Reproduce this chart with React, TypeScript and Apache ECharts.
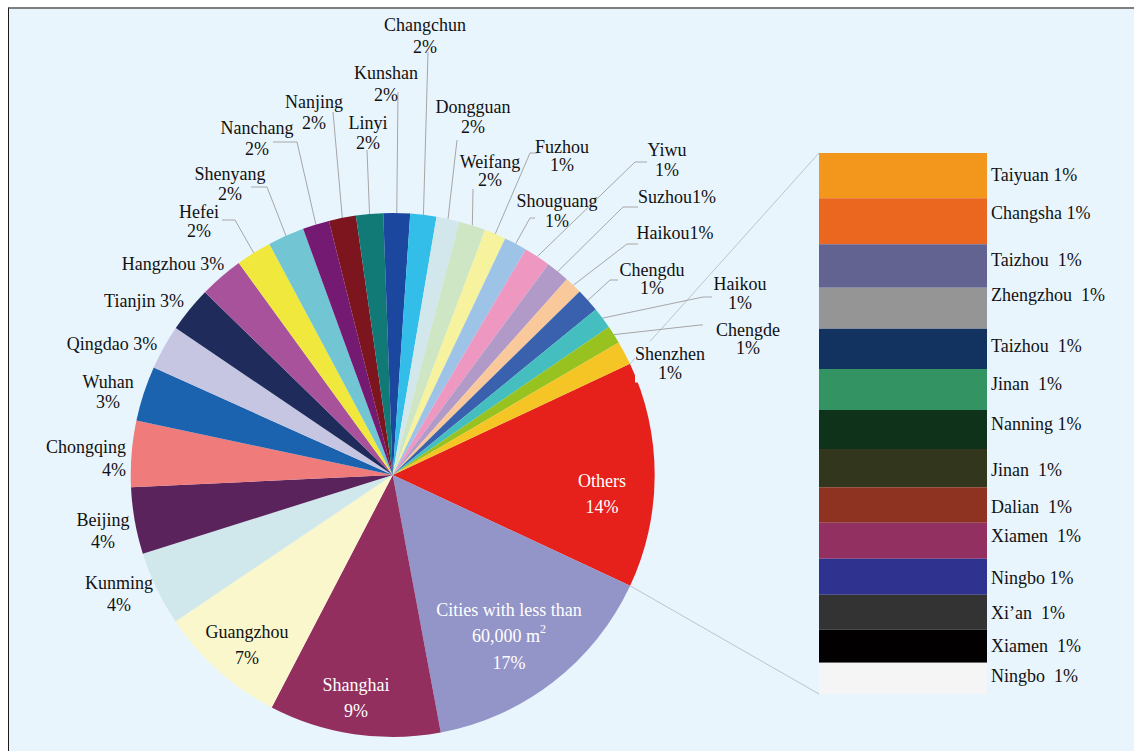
import React, { useEffect, useRef } from 'react';
import * as echarts from 'echarts';

// ---------- DATA ----------
// Pie slices, clockwise starting from the split slice "Others"
const pieNames = [
  'Others', 'Cities with less than\n60,000 m{sup|2}', 'Shanghai', 'Guangzhou', 'Kunming', 'Beijing',
  'Chongqing', 'Wuhan', 'Qingdao', 'Tianjin', 'Hangzhou', 'Hefei', 'Shenyang', 'Nanchang',
  'Nanjing', 'Linyi', 'Kunshan', 'Changchun', 'Dongguan', 'Weifang', 'Fuzhou', 'Shouguang',
  'Yiwu', 'Suzhou', 'Haikou', 'Chengdu', 'Haikou', 'Chengde', 'Shenzhen',
];
// slice sizes (percent of the whole)
const pieValues = [
  13.92, 15.11, 10.58, 7.92, 4.58, 4.11, 4.08, 3.39, 2.75, 2.81, 2.72, 2.19, 2.25, 1.64,
  1.67, 1.67, 1.64, 1.61, 1.42, 1.64, 1.33, 1.42, 1.64, 1.44, 1.08, 1.47, 1.33, 1.11, 1.47,
];
// percentages printed on the labels
const piePct = [
  '14%', '17%', '9%', '7%', '4%', '4%', '4%', '3%', '3%', '3%', '3%', '2%', '2%', '2%',
  '2%', '2%', '2%', '2%', '2%', '2%', '1%', '1%', '1%', '1%', '1%', '1%', '1%', '1%', '1%',
];
const pieColors = [
  '#E6211B', '#9394C8', '#922F5F', '#FAF7CC', '#D0E8EC', '#5B235C', '#EF7B7B', '#1C63AF',
  '#C7C6E2', '#1F2B5A', '#A7529B', '#F0E83C', '#72C6D3', '#751A73', '#7D151F', '#117A77',
  '#1B479E', '#33BEEA', '#D2E7EC', '#CFE6C4', '#F6F29E', '#9DC4E7', '#EE97C1', '#B19AC8',
  '#F9C89B', '#3A61AD', '#45BEBF', '#97C21F', '#F4C524',
];

// Breakdown of "Others" (stacked bar, top to bottom)
const barNames = [
  'Taiyuan', 'Changsha', 'Taizhou', 'Zhengzhou', 'Taizhou', 'Jinan', 'Nanning', 'Jinan',
  'Dalian', 'Xiamen', 'Ningbo', 'Xi’an', 'Xiamen', 'Ningbo',
];
const barValues = [1.17, 1.19, 1.13, 1.06, 1.04, 1.06, 1.01, 0.99, 0.92, 0.93, 0.93, 0.91, 0.85, 0.81];
const barPct = ['1%', '1%', '1%', '1%', '1%', '1%', '1%', '1%', '1%', '1%', '1%', '1%', '1%', '1%'];
const barColors = [
  '#F3961C', '#EB661E', '#636391', '#959595', '#12335F', '#339363', '#0E321A', '#32361C',
  '#8E3321', '#923061', '#303290', '#333333', '#020000', '#F5F5F5',
];

// ---------- LAYOUT / STYLE ----------
const BG = '#E9F5FD';
const FONT = '"Liberation Serif", "Times New Roman", serif';
const CX = 392.7;
const CY = 475;
const R = 262;
const START = 25.1;
const GRID = { left: 819, top: 153, width: 168, height: 541 };

type LL = { x: number; y: number; lh?: number; align?: string; sep?: string; inside?: boolean; color?: string; line?: number[][]; bg?: boolean };
const pieLabelLayout: LL[] = [
  { x: 602, y: 494, lh: 26, inside: true, color: '#ffffff' },
  { x: 509, y: 636, lh: 26.5, inside: true, color: '#ffffff' },
  { x: 356, y: 698, lh: 26, inside: true, color: '#ffffff' },
  { x: 247, y: 645, lh: 26, inside: true },
  { x: 119, y: 594, lh: 22 },
  { x: 103, y: 531, lh: 22 },
  { x: 126, y: 458, lh: 23, align: 'right' },
  { x: 108, y: 392, lh: 20 },
  { x: 112, y: 344, sep: ' ' },
  { x: 144, y: 301, sep: ' ' },
  { x: 173, y: 264, sep: ' ' },
  { x: 199, y: 221, lh: 19, line: [[235, 220], [222, 220]] },
  { x: 230, y: 184, lh: 20, line: [[267, 187], [251, 187]] },
  { x: 257, y: 138, lh: 21, line: [[297, 142], [273, 142]] },
  { x: 314, y: 112, lh: 21, line: [[333, 112]] },
  { x: 368, y: 133, lh: 20, line: [[367, 150]] },
  { x: 386, y: 84, lh: 22, line: [[398, 92]] },
  { x: 425, y: 36, lh: 22, line: [[428, 52]] },
  { x: 473, y: 117, lh: 20, line: [[457, 140]] },
  { x: 490, y: 171, lh: 18, line: [[473, 189]] },
  { x: 562, y: 156, lh: 18, line: [[530, 153], [537, 153]] },
  { x: 557, y: 211, lh: 20, line: [[530, 218], [535, 218]] },
  { x: 667, y: 160, lh: 20, line: [[635, 162], [647, 162]] },
  { x: 677, y: 197, sep: '', line: [[623, 207], [638, 207]] },
  { x: 675, y: 233, sep: '', line: [[627, 244], [638, 244]] },
  { x: 652, y: 279, lh: 18, line: [[610, 280], [618, 280]] },
  { x: 740, y: 293, lh: 19, line: [[703, 297], [712, 297]] },
  { x: 748, y: 339, lh: 18, line: [[700, 325], [703, 325]] },
  { x: 670, y: 362, lh: 19, bg: true },
];
const barLabelSep = [' ', ' ', '  ', '  ', '  ', '  ', ' ', '  ', '  ', '  ', ' ', '  ', '  ', '  '];
const barLabelDy = [-1, -8, -6, -13, -3, -5, -5, 2, 2, -5, 1, 1, 0, -2];

const toPoint = (deg: number, r: number) => {
  const rad = (deg * Math.PI) / 180;
  return [CX + r * Math.cos(rad), CY - r * Math.sin(rad)];
};

export default function App() {
  const ref = useRef<HTMLDivElement>(null);

  useEffect(() => {
    document.body.style.margin = '0';
    if (!ref.current) return;
    const chart = echarts.init(ref.current, undefined, { renderer: 'svg' });

    const total = pieValues.reduce((a, b) => a + b, 0);
    let acc = 0;
    const bounds = pieValues.map((v) => {
      const a0 = START - (acc / total) * 360;
      acc += v;
      const a1 = START - (acc / total) * 360;
      return [a0, a1];
    });
    const mids = bounds.map(([a0, a1]) => (a0 + a1) / 2);
    const othersTop = toPoint(bounds[0][0], R);
    const othersBottom = toPoint(bounds[0][1], R);
    const barTotal = barValues.reduce((a, b) => a + b, 0);

    const pieLabelText = pieNames.map((n, i) => {
      const sep = pieLabelLayout[i].sep ?? '\n';
      return `${n}${sep}${piePct[i]}`;
    });

    const option: any = {
      animation: false,
      textStyle: { fontFamily: FONT },
      graphic: [
        {
          type: 'line',
          z: 1,
          silent: true,
          shape: { x1: othersTop[0], y1: othersTop[1], x2: GRID.left, y2: GRID.top },
          style: { stroke: '#AEB8C2', lineWidth: 0.8 },
        },
        {
          type: 'line',
          z: 1,
          silent: true,
          shape: { x1: othersBottom[0], y1: othersBottom[1], x2: GRID.left, y2: GRID.top + GRID.height },
          style: { stroke: '#AEB8C2', lineWidth: 0.8 },
        },
      ],
      grid: { left: GRID.left, top: GRID.top, width: GRID.width, height: GRID.height, containLabel: false },
      xAxis: { type: 'category', data: ['Others'], show: false },
      yAxis: { type: 'value', min: 0, max: barTotal, inverse: true, show: false },
      series: [
        {
          type: 'pie',
          center: [CX, CY],
          radius: R,
          startAngle: START,
          clockwise: true,
          avoidLabelOverlap: false,
          silent: true,
          z: 2,
          itemStyle: { borderWidth: 0 },
          label: {
            show: true,
            position: 'outside',
            fontFamily: FONT,
            fontSize: 18,
            color: '#111111',
            formatter: (p: any) => pieLabelText[p.dataIndex],
          },
          labelLine: { show: true, length: 8, length2: 8, lineStyle: { color: '#A6A6A6', width: 1 } },
          labelLayout: (p: any) => {
            const L = pieLabelLayout[p.dataIndex];
            const res: any = {
              x: L.x,
              y: L.y,
              align: L.align || 'center',
              verticalAlign: 'middle',
            };
            if (L.line) {
              res.labelLinePoints = [toPoint(mids[p.dataIndex], R), ...L.line];
            }
            return res;
          },
          data: pieNames.map((n, i) => {
            const L = pieLabelLayout[i];
            const color = L.color || '#111111';
            return {
              name: n,
              value: pieValues[i],
              itemStyle: { color: pieColors[i] },
              label: {
                position: L.inside ? 'inside' : 'outside',
                lineHeight: L.lh || 20,
                color,
                backgroundColor: L.bg ? BG : 'transparent',
                padding: L.bg ? [3, 0, 0, 0] : 0,
                rich: {
                  sup: {
                    fontFamily: FONT,
                    fontSize: 12,
                    color,
                    lineHeight: 14,
                    verticalAlign: 'top',
                  },
                },
              },
              labelLine: { show: !!L.line },
            };
          }),
        },
        ...barNames.map((n, i) => ({
          type: 'bar',
          name: n,
          stack: 'others',
          barWidth: '100%',
          silent: true,
          data: [barValues[i]],
          itemStyle: { color: barColors[i] },
          label: {
            show: true,
            position: 'right',
            distance: 4,
            offset: [0, barLabelDy[i]],
            fontFamily: FONT,
            fontSize: 18,
            color: '#111111',
            formatter: `${n}${barLabelSep[i]}${barPct[i]}`,
          },
        })),
      ],
    };

    chart.setOption(option);
    return () => chart.dispose();
  }, []);

  return (
    <div style={{ position: 'relative', width: 1134, height: 751, background: '#ffffff', overflow: 'hidden' }}>
      <div
        style={{
          position: 'absolute',
          left: 8,
          top: 7,
          right: 0,
          bottom: 0,
          boxSizing: 'border-box',
          background: BG,
          borderTop: '2px solid #7f7f7f',
          borderLeft: '1.5px solid #1a1a1a',
        }}
      />
      <div ref={ref} style={{ position: 'absolute', left: 0, top: 0, width: 1134, height: 751 }} />
    </div>
  );
}
